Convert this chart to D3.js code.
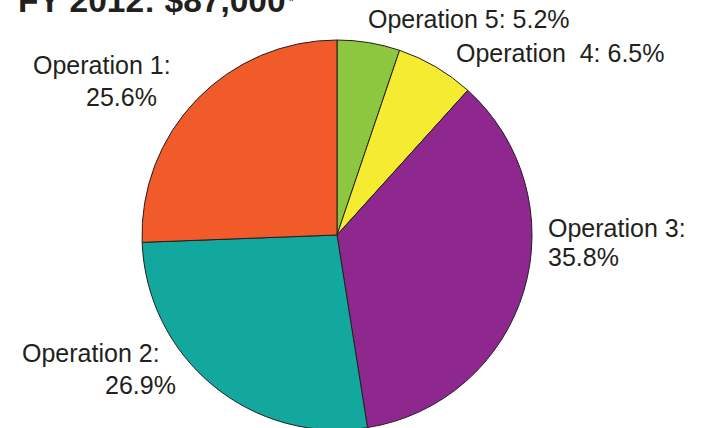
<!DOCTYPE html>
<html>
<head>
<meta charset="utf-8">
<script src="https://cdn.jsdelivr.net/npm/d3@7"></script>
<style>
  body { margin: 0; background: #fff; }
  svg { display: block; }
  text { font-family: "Liberation Sans", Arial, sans-serif; fill: #231f20; }
</style>
</head>
<body>
<div id="chart"></div>
<script>
// data (clockwise from 12 o'clock)
const operations = ["Operation 5", "Operation 4", "Operation 3", "Operation 2", "Operation 1"];
const shares = [5.2, 6.5, 35.8, 26.9, 25.6];
const sliceColors = ["#8dc63f", "#f5eb30", "#8e288f", "#13a89e", "#f15a29"];
const titleText = "FY 2012: $87,000";

const width = 707, height = 428;
const cx = 337, cy = 235, radius = 195;

const svg = d3.select("#chart").append("svg")
  .attr("width", width)
  .attr("height", height);

const pie = d3.pie().sort(null).value(d => d)(shares);
const arc = d3.arc().innerRadius(0).outerRadius(radius);

svg.append("g")
  .attr("transform", `translate(${cx},${cy})`)
  .selectAll("path")
  .data(pie)
  .enter()
  .append("path")
  .attr("d", arc)
  .attr("fill", (d, i) => sliceColors[i])
  .attr("stroke", "#231f20")
  .attr("stroke-width", 1);

// 标题（上半部分被裁掉）
const title = svg.append("text")
  .attr("x", 18)
  .attr("y", 12)
  .attr("font-size", 33.5)
  .attr("font-weight", "bold")
  .text(titleText);
title.append("tspan")
  .attr("font-size", 14)
  .attr("dx", 3)
  .attr("dy", -6)
  .attr("font-weight", "normal")
  .text("*");

// 标签位置
const labelPos = [
  { lines: [[368, 28, d => `${operations[0]}: ${shares[0]}%`]] },
  { lines: [[456, 62, d => `Operation\u00a0 4: ${shares[1]}%`]] },
  { lines: [[548, 237, d => `${operations[2]}:`], [548, 266, d => `${shares[2]}%`]] },
  { lines: [[22, 362, d => `${operations[3]}:`], [105, 394, d => `${shares[3]}%`]] },
  { lines: [[33, 74, d => `${operations[4]}:`], [86, 106, d => `${shares[4]}%`]] }
];

labelPos.forEach(lp => {
  lp.lines.forEach(([x, y, f]) => {
    svg.append("text")
      .attr("x", x)
      .attr("y", y)
      .attr("font-size", 25)
      .text(f());
  });
});
</script>
</body>
</html>
